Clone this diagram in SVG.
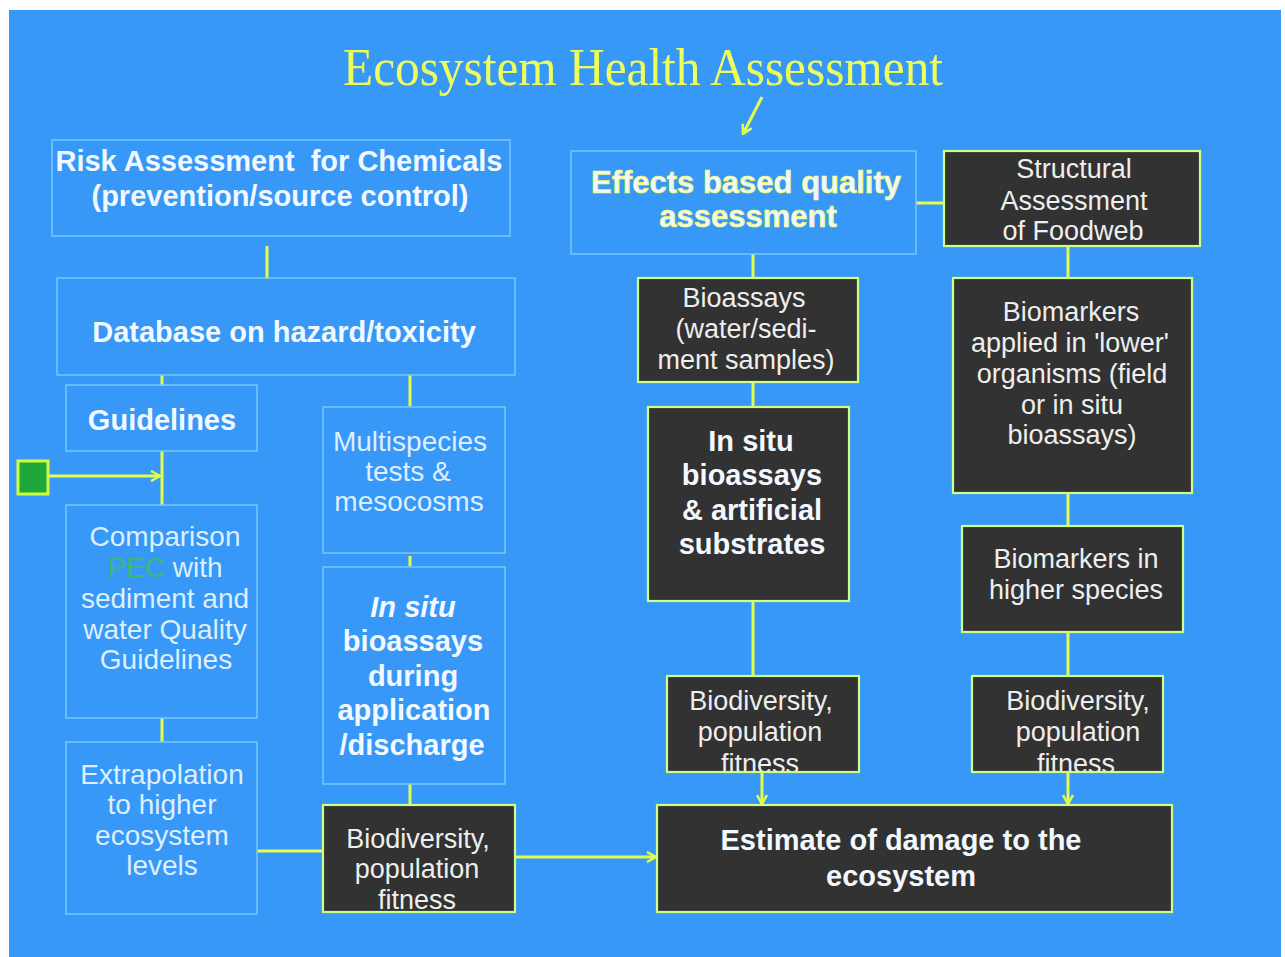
<svg xmlns="http://www.w3.org/2000/svg" width="1285" height="957" viewBox="0 0 1285 957">
  <defs>
    <style>
      .title { font-family: "Liberation Serif", "Times New Roman", serif; font-size: 52px; fill: #EEFF5A; }
      .lt { font-family: "Liberation Sans", Arial, sans-serif; fill: #F2F8FF; text-anchor: middle; }
      .b29 { font-size: 29px; font-weight: bold; }
      .r28 { font-size: 28px; fill: #DDEFFF; }
      .r27 { font-size: 27px; fill: #EEEEEE; }
      .boxblue { fill: none; stroke: #74C8FF; stroke-width: 1.5; }
      .boxdark { fill: #323232; }
      .boxdarkedge { fill: none; stroke: #CFFF85; stroke-width: 2.2; }
      .conn { stroke: #E4FF4A; stroke-width: 3; fill: none; }
    </style>
    <marker id="chev" viewBox="0 0 12 12" refX="11" refY="6" markerWidth="12" markerHeight="12" markerUnits="userSpaceOnUse" orient="auto">
      <path d="M2,1 L11,6 L2,11" fill="none" stroke="#E4FF4A" stroke-width="2.5"/>
    </marker>
  </defs>

  <!-- page -->
  <rect x="0" y="0" width="1285" height="957" fill="#FFFFFF"/>
  <rect x="9" y="10" width="1272" height="947" fill="#3898F8"/>

  <text class="title" x="643" y="85" text-anchor="middle" textLength="600" lengthAdjust="spacingAndGlyphs">Ecosystem Health Assessment</text>

  <!-- connectors -->
  <g id="connectors">
    <line class="conn" x1="762" y1="97" x2="743" y2="134" marker-end="url(#chev)"/>
    <line class="conn" x1="267" y1="246" x2="267" y2="279"/>
    <line class="conn" x1="162" y1="375" x2="162" y2="386"/>
    <line class="conn" x1="410" y1="375" x2="410" y2="406"/>
    <line class="conn" x1="162" y1="451" x2="162" y2="505"/>
    <line class="conn" x1="48" y1="476" x2="160" y2="476" marker-end="url(#chev)"/>
    <line class="conn" x1="410" y1="556" x2="410" y2="566"/>
    <line class="conn" x1="162" y1="718" x2="162" y2="742"/>
    <line class="conn" x1="410" y1="784" x2="410" y2="806"/>
    <line class="conn" x1="257" y1="851" x2="323" y2="851"/>
    <line class="conn" x1="516" y1="857" x2="656" y2="857" marker-end="url(#chev)"/>
    <line class="conn" x1="916" y1="203" x2="944" y2="203"/>
    <line class="conn" x1="753" y1="254" x2="753" y2="278"/>
    <line class="conn" x1="753" y1="382" x2="753" y2="407"/>
    <line class="conn" x1="753" y1="601" x2="753" y2="676"/>
    <line class="conn" x1="762" y1="772" x2="762" y2="804" marker-end="url(#chev)"/>
    <line class="conn" x1="1068" y1="246" x2="1068" y2="278"/>
    <line class="conn" x1="1068" y1="493" x2="1068" y2="526"/>
    <line class="conn" x1="1068" y1="632" x2="1068" y2="676"/>
    <line class="conn" x1="1068" y1="772" x2="1068" y2="804" marker-end="url(#chev)"/>
  </g>

  <!-- left branch: chemical risk assessment -->
  <g id="risk-assessment">
    <rect class="boxblue" x="52" y="140" width="458" height="96"/>
    <text class="lt b29" x="279" y="171" style="white-space:pre">Risk Assessment  for Chemicals</text>
    <text class="lt b29" x="280" y="206">(prevention/source control)</text>
  </g>

  <g id="database">
    <rect class="boxblue" x="57" y="278" width="458" height="97"/>
    <text class="lt b29" x="284" y="342">Database on hazard/toxicity</text>
  </g>

  <g id="guidelines">
    <rect class="boxblue" x="66" y="385" width="191" height="66"/>
    <text class="lt b29" x="162" y="430">Guidelines</text>
  </g>

  <g id="pec-input">
    <rect x="18" y="461" width="30" height="33" fill="#1FA83A" stroke="#D2FF3C" stroke-width="3"/>
  </g>

  <g id="comparison">
    <rect class="boxblue" x="66" y="505" width="191" height="213"/>
    <text class="lt r28" x="165" y="546">Comparison</text>
    <text class="lt r28" x="165" y="577"><tspan fill="#3CB87A">PEC</tspan> with</text>
    <text class="lt r28" x="165" y="608">sediment and</text>
    <text class="lt r28" x="165" y="639">water Quality</text>
    <text class="lt r28" x="166" y="669">Guidelines</text>
  </g>

  <g id="extrapolation">
    <rect class="boxblue" x="66" y="742" width="191" height="172"/>
    <text class="lt r28" x="162" y="784">Extrapolation</text>
    <text class="lt r28" x="162" y="814">to higher</text>
    <text class="lt r28" x="162" y="845">ecosystem</text>
    <text class="lt r28" x="162" y="875">levels</text>
  </g>

  <g id="multispecies">
    <rect class="boxblue" x="323" y="407" width="182" height="146"/>
    <text class="lt r28" x="410" y="451">Multispecies</text>
    <text class="lt r28" x="408" y="481">tests &amp;</text>
    <text class="lt r28" x="409" y="511">mesocosms</text>
  </g>

  <g id="insitu-discharge">
    <rect class="boxblue" x="323" y="567" width="182" height="217"/>
    <text class="lt b29" x="413" y="617" font-style="italic">In situ</text>
    <text class="lt b29" x="413" y="651">bioassays</text>
    <text class="lt b29" x="413" y="686">during</text>
    <text class="lt b29" x="414" y="720">application</text>
    <text class="lt b29" x="412" y="755">/discharge</text>
  </g>

  <g id="biodiversity-left">
    <rect class="boxdark" x="323" y="805" width="192" height="107"/>
    <text class="lt r27" x="418" y="848">Biodiversity,</text>
    <text class="lt r27" x="417" y="878">population</text>
    <text class="lt r27" x="417" y="909">fitness</text>
    <rect class="boxdarkedge" x="323" y="805" width="192" height="107"/>
  </g>

  <!-- centre branch: effects based assessment -->
  <g id="effects-based">
    <rect class="boxblue" x="571" y="151" width="345" height="103"/>
    <text class="lt" x="746" y="193" font-size="31" font-weight="bold" fill="#F4FF3A" stroke="#F4FF3A" stroke-width="0.6">Effects based quality</text>
    <text class="lt" x="748" y="227" font-size="31" font-weight="bold" fill="#F4FF3A" stroke="#F4FF3A" stroke-width="0.6">assessment</text>
  </g>

  <g id="bioassays">
    <rect class="boxdark" x="638" y="278" width="220" height="104"/>
    <text class="lt r27" x="744" y="307">Bioassays</text>
    <text class="lt r27" x="746" y="338">(water/sedi-</text>
    <text class="lt r27" x="746" y="369">ment samples)</text>
    <rect class="boxdarkedge" x="638" y="278" width="220" height="104"/>
  </g>

  <g id="insitu-substrates">
    <rect class="boxdark" x="648" y="407" width="201" height="194"/>
    <text class="lt b29" x="751" y="451">In situ</text>
    <text class="lt b29" x="752" y="485">bioassays</text>
    <text class="lt b29" x="752" y="520">&amp; artificial</text>
    <text class="lt b29" x="752" y="554">substrates</text>
    <rect class="boxdarkedge" x="648" y="407" width="201" height="194"/>
  </g>

  <g id="biodiversity-centre">
    <rect class="boxdark" x="667" y="676" width="192" height="96"/>
    <text class="lt r27" x="761" y="710">Biodiversity,</text>
    <text class="lt r27" x="760" y="741">population</text>
    <text class="lt r27" x="760" y="773">fitness</text>
    <rect class="boxdarkedge" x="667" y="676" width="192" height="96"/>
  </g>

  <!-- right branch: structural assessment -->
  <g id="structural">
    <rect class="boxdark" x="944" y="151" width="256" height="95"/>
    <text class="lt r27" x="1074" y="178">Structural</text>
    <text class="lt r27" x="1074" y="210">Assessment</text>
    <text class="lt r27" x="1073" y="240">of Foodweb</text>
    <rect class="boxdarkedge" x="944" y="151" width="256" height="95"/>
  </g>

  <g id="biomarkers-lower">
    <rect class="boxdark" x="953" y="278" width="239" height="215"/>
    <text class="lt r27" x="1071" y="321">Biomarkers</text>
    <text class="lt r27" x="1070" y="352">applied in 'lower'</text>
    <text class="lt r27" x="1072" y="383">organisms (field</text>
    <text class="lt r27" x="1072" y="414">or in situ</text>
    <text class="lt r27" x="1072" y="444">bioassays)</text>
    <rect class="boxdarkedge" x="953" y="278" width="239" height="215"/>
  </g>

  <g id="biomarkers-higher">
    <rect class="boxdark" x="962" y="526" width="221" height="106"/>
    <text class="lt r27" x="1076" y="568">Biomarkers in</text>
    <text class="lt r27" x="1076" y="599">higher species</text>
    <rect class="boxdarkedge" x="962" y="526" width="221" height="106"/>
  </g>

  <g id="biodiversity-right">
    <rect class="boxdark" x="972" y="676" width="191" height="96"/>
    <text class="lt r27" x="1078" y="710">Biodiversity,</text>
    <text class="lt r27" x="1078" y="741">population</text>
    <text class="lt r27" x="1076" y="773">fitness</text>
    <rect class="boxdarkedge" x="972" y="676" width="191" height="96"/>
  </g>

  <!-- outcome -->
  <g id="damage-estimate">
    <rect class="boxdark" x="657" y="805" width="515" height="107"/>
    <text class="lt b29" x="901" y="850">Estimate of damage to the</text>
    <text class="lt b29" x="901" y="886">ecosystem</text>
    <rect class="boxdarkedge" x="657" y="805" width="515" height="107"/>
  </g>
</svg>
